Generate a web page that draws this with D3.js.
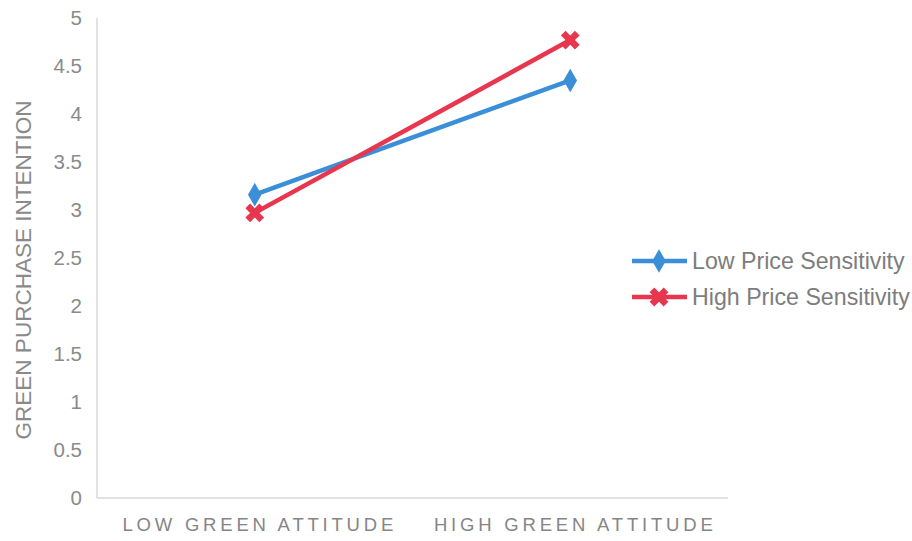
<!DOCTYPE html>
<html>
<head>
<meta charset="utf-8">
<script src="https://cdn.jsdelivr.net/npm/d3@7"></script>
<style>
  body { margin: 0; background: #fff; }
  svg text { font-family: "Helvetica Neue", "Liberation Sans", Arial, sans-serif; }
</style>
</head>
<body>
<svg id="chart" width="912" height="541"></svg>
<script>
// Interaction plot: green attitude x price sensitivity
const categories = ["LOW GREEN ATTITUDE", "HIGH GREEN ATTITUDE"];
const lowPriceSensitivity = [3.16, 4.35];
const highPriceSensitivity = [2.97, 4.77];
const yTicks = [0, 0.5, 1, 1.5, 2, 2.5, 3, 3.5, 4, 4.5, 5];
const seriesNames = ["Low Price Sensitivity", "High Price Sensitivity"];

const series = [
  { name: seriesNames[0], values: lowPriceSensitivity, color: "#3b8fd8", symbol: d3.symbolDiamond, rot: 0 },
  { name: seriesNames[1], values: highPriceSensitivity, color: "#e8364f", symbol: d3.symbolCross, rot: 45 }
];

const svg = d3.select("#chart");
const plotLeft = 97, plotRight = 728, plotTop = 18, plotBottom = 498;

const x = d3.scaleBand().domain(categories).range([plotLeft, plotRight]);
const y = d3.scaleLinear().domain([0, 5]).range([plotBottom, plotTop]);

// axes lines
svg.append("line").attr("x1", plotLeft).attr("x2", plotLeft).attr("y1", plotTop).attr("y2", plotBottom)
  .attr("stroke", "#d9d9d9").attr("stroke-width", 1.5);
svg.append("line").attr("x1", plotLeft).attr("x2", plotRight).attr("y1", plotBottom).attr("y2", plotBottom)
  .attr("stroke", "#d9d9d9").attr("stroke-width", 1.5);

// y tick labels
svg.append("g").selectAll("text").data(yTicks).join("text")
  .attr("x", 82).attr("y", d => y(d)).attr("dy", "0.36em")
  .attr("text-anchor", "end").attr("fill", "#8a8a8a").attr("font-size", 20.5)
  .text(d => d);

// x category labels
svg.append("g").selectAll("text").data(categories).join("text")
  .attr("x", d => x(d) + x.bandwidth() / 2 + 5).attr("y", 531)
  .attr("text-anchor", "middle").attr("fill", "#858585").attr("font-size", 18.5)
  .attr("letter-spacing", "3.8px")
  .text(d => d);

// y axis title
svg.append("text")
  .attr("transform", `translate(31,270) rotate(-90)`)
  .attr("text-anchor", "middle").attr("fill", "#8a8a8a").attr("font-size", 22.5)
  .text("GREEN PURCHASE INTENTION");

const line = d3.line().x((d, i) => x(categories[i]) + x.bandwidth() / 2).y(d => y(d));

series.forEach(s => {
  svg.append("path").datum(s.values).attr("d", line)
    .attr("fill", "none").attr("stroke", s.color).attr("stroke-width", 4.5);
  svg.append("g").selectAll("path").data(s.values).join("path")
    .attr("d", d3.symbol().type(s.symbol).size(s.rot ? 220 : 160))
    .attr("transform", (d, i) => `translate(${x(categories[i]) + x.bandwidth() / 2},${y(d)}) rotate(${s.rot})`)
    .attr("fill", s.color);
});

// legend
const legend = svg.append("g");
series.forEach((s, i) => {
  const ly = 261 + i * 36;
  legend.append("line").attr("x1", 632).attr("x2", 687).attr("y1", ly).attr("y2", ly)
    .attr("stroke", s.color).attr("stroke-width", 4.5);
  legend.append("path").attr("d", d3.symbol().type(s.symbol).size(s.rot ? 220 : 160))
    .attr("transform", `translate(659,${ly}) rotate(${s.rot})`).attr("fill", s.color);
  legend.append("text").attr("x", 692).attr("y", ly).attr("dy", "0.36em")
    .attr("fill", "#7d7d7d").attr("font-size", 23.2).text(s.name);
});
</script>
</body>
</html>
